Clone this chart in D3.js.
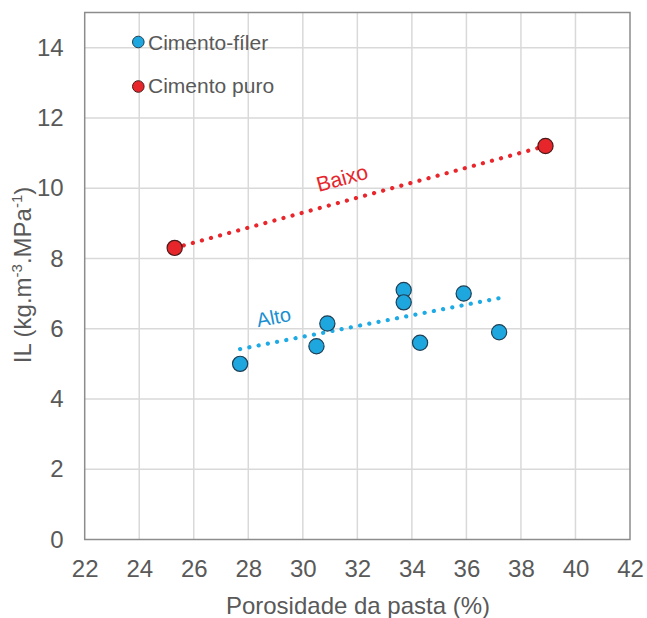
<!DOCTYPE html>
<html>
<head>
<meta charset="utf-8">
<script src="https://cdn.jsdelivr.net/npm/d3@7/dist/d3.min.js"></script>
<style>
  html, body { margin: 0; padding: 0; background: #fff; }
  svg { display: block; font-family: "Liberation Sans", Arial, sans-serif; }
</style>
</head>
<body>
<svg id="chart" width="647" height="618"></svg>
<script>
// Porosity of the paste (%) vs. IL index
const xTicks = [22, 24, 26, 28, 30, 32, 34, 36, 38, 40, 42];
const yTicks = [0, 2, 4, 6, 8, 10, 12, 14];

const filerX = [27.7, 30.5, 30.9, 33.7, 33.7, 34.3, 35.9, 37.2];
const filerY = [5.0, 5.5, 6.15, 7.1, 6.75, 5.6, 7.0, 5.9];

const puroX = [25.3, 38.9];
const puroY = [8.3, 11.2];

// Trend lines (start and end points)
const trendAltoX = [27.7, 37.2];
const trendAltoY = [5.42, 6.87];
const trendBaixoX = [25.3, 38.9];
const trendBaixoY = [8.3, 11.2];

const seriesNames = ["Cimento-fíler", "Cimento puro"];

const svg = d3.select("#chart");
const plotL = 84.7, plotR = 630, plotT = 12.5, plotB = 539.5;

const x = d3.scaleLinear().domain([22, 42]).range([plotL, plotR]);
const y = d3.scaleLinear().domain([0, 15]).range([plotB, plotT]);

const textColor = "#595959";
const blue = "#1ea7de", red = "#e6262b";
const blueDot = "#1eaae4", redDot = "#e8262c";

// gridlines
const grid = svg.append("g");
grid.selectAll("line.vx").data(xTicks.slice(1, -1)).join("line")
  .attr("x1", d => x(d)).attr("x2", d => x(d))
  .attr("y1", plotT).attr("y2", plotB)
  .attr("stroke", "#d9d9d9").attr("stroke-width", 1.5);
grid.selectAll("line.hy").data(yTicks.slice(1)).join("line")
  .attr("x1", plotL).attr("x2", plotR)
  .attr("y1", d => y(d)).attr("y2", d => y(d))
  .attr("stroke", "#d9d9d9").attr("stroke-width", 1.5);

// frame
svg.append("rect")
  .attr("x", plotL).attr("y", plotT)
  .attr("width", plotR - plotL).attr("height", plotB - plotT)
  .attr("fill", "none").attr("stroke", "#8c8c8c").attr("stroke-width", 1.5);

// tick labels via d3 axes
const xAxis = svg.append("g")
  .attr("transform", `translate(0,${plotB})`)
  .call(d3.axisBottom(x).tickValues(xTicks).tickSize(0).tickPadding(20));
xAxis.select(".domain").remove();
xAxis.selectAll("text").attr("fill", textColor).attr("font-size", 24)
  .attr("font-family", "Liberation Sans, Arial, sans-serif");

const yAxis = svg.append("g")
  .attr("transform", `translate(${plotL},0)`)
  .call(d3.axisLeft(y).tickValues(yTicks).tickSize(0).tickPadding(21));
yAxis.select(".domain").remove();
yAxis.selectAll("text").attr("fill", textColor).attr("font-size", 24)
  .attr("font-family", "Liberation Sans, Arial, sans-serif");

// axis titles
svg.append("text")
  .attr("x", 358).attr("y", 614)
  .attr("text-anchor", "middle").attr("fill", textColor).attr("font-size", 24)
  .text("Porosidade da pasta (%)");

const yt = svg.append("text")
  .attr("transform", `translate(31,275) rotate(-90)`)
  .attr("text-anchor", "middle").attr("fill", textColor).attr("font-size", 24);
yt.append("tspan").text("IL (kg.m");
yt.append("tspan").attr("dy", -9).attr("font-size", 15).text("-3");
yt.append("tspan").attr("dy", 9).text(".MPa");
yt.append("tspan").attr("dy", -9).attr("font-size", 15).text("-1");
yt.append("tspan").attr("dy", 9).text(")");

// dotted trend lines
const line = d3.line().x(d => x(d[0])).y(d => y(d[1]));
function trend(xs, ys, color) {
  svg.append("path")
    .datum(xs.map((v, i) => [v, ys[i]]))
    .attr("d", line)
    .attr("fill", "none").attr("stroke", color)
    .attr("stroke-width", 4.2).attr("stroke-linecap", "round")
    .attr("stroke-dasharray", "0.1 9.3");
}
trend(trendBaixoX, trendBaixoY, redDot);
trend(trendAltoX, trendAltoY, blueDot);

// trend labels
function angleOf(xs, ys) {
  return Math.atan2(y(ys[1]) - y(ys[0]), x(xs[1]) - x(xs[0])) * 180 / Math.PI;
}
svg.append("text")
  .attr("transform", `translate(344,185) rotate(${angleOf(trendBaixoX, trendBaixoY)})`)
  .attr("text-anchor", "middle").attr("fill", red).attr("font-size", 21)
  .text("Baixo");
svg.append("text")
  .attr("transform", `translate(275,324) rotate(${angleOf(trendAltoX, trendAltoY)})`)
  .attr("text-anchor", "middle").attr("fill", "#1a8fd0").attr("font-size", 20)
  .text("Alto");

// points
const filer = filerX.map((v, i) => [v, filerY[i]]);
const puro = puroX.map((v, i) => [v, puroY[i]]);
svg.append("g").selectAll("circle").data(filer).join("circle")
  .attr("cx", d => x(d[0])).attr("cy", d => y(d[1])).attr("r", 7.6)
  .attr("fill", blue).attr("stroke", "#1d3f55").attr("stroke-width", 1.2);
svg.append("g").selectAll("circle").data(puro).join("circle")
  .attr("cx", d => x(d[0])).attr("cy", d => y(d[1])).attr("r", 7.6)
  .attr("fill", red).attr("stroke", "#4a1a1a").attr("stroke-width", 1.2);

// legend
const legend = svg.append("g");
const legendItems = [
  { name: seriesNames[0], color: blue, stroke: "#1d3f55", cy: 42, base: 49.5 },
  { name: seriesNames[1], color: red, stroke: "#4a1a1a", cy: 86.5, base: 93 }
];
legendItems.forEach(it => {
  legend.append("circle").attr("cx", 138.3).attr("cy", it.cy).attr("r", 5.8)
    .attr("fill", it.color).attr("stroke", it.stroke).attr("stroke-width", 1);
  legend.append("text").attr("x", 148).attr("y", it.base)
    .attr("fill", textColor).attr("font-size", 21).text(it.name);
});
</script>
</body>
</html>
